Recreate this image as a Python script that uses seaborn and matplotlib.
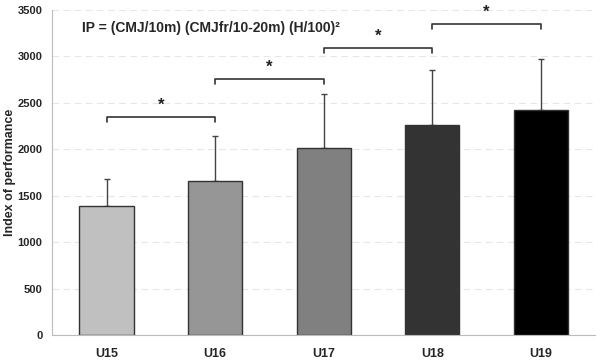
import numpy as np
import pandas as pd
import seaborn as sns
import matplotlib.pyplot as plt

# data
groups = ["U15", "U16", "U17", "U18", "U19"]
means = [1385, 1660, 2010, 2260, 2425]
sds = [295, 480, 580, 595, 550]
bar_colors = ["#c0c0c0", "#969696", "#808080", "#333333", "#000000"]

# significance brackets: (left group, right group, height)
brackets = [(0, 1, 2350), (1, 2, 2760), (2, 3, 3090), (3, 4, 3350)]

sns.set_style("white")
plt.rcParams["font.family"] = ["Liberation Sans", "DejaVu Sans"]

df = pd.DataFrame({"group": groups, "value": means})

fig = plt.figure(figsize=(6, 3.63), dpi=100)
ax = fig.add_axes([0.087, 0.077, 0.905, 0.896])

sns.barplot(data=df, x="group", y="value", hue="group", palette=bar_colors,
            width=0.5, edgecolor="#333333", linewidth=1.0, legend=False, ax=ax,
            zorder=2)

xs = np.arange(len(groups))
ax.errorbar(xs, means, yerr=[np.zeros(len(sds)), sds], fmt="none",
            ecolor="#444444", elinewidth=1.0, capsize=2.5, capthick=1.0, zorder=1)

for a, b, h in brackets:
    ax.plot([a, a, b, b], [h - 60, h, h, h - 60], color="#333333", lw=1.2,
            clip_on=False)
    ax.text((a + b) / 2, h + 40, "*", ha="center", va="bottom",
            fontsize=12, fontweight="bold", color="#222222")

ax.set_ylim(0, 3500)
ax.set_xlim(-0.5, 4.5)
ax.set_yticks(range(0, 3501, 500))
ax.yaxis.grid(True, color="#e6e6e6", linestyle=(0, (6, 4)), linewidth=0.8)
ax.set_axisbelow(True)

ax.set_xticks(np.arange(-0.5, 5, 1.0), minor=True)
ax.tick_params(axis="x", which="major", length=0, pad=9)
ax.tick_params(axis="x", which="minor", length=3, color="#bbbbbb", width=0.8)
ax.tick_params(axis="y", length=3, color="#bbbbbb", width=0.8, pad=4)

for lab in ax.get_xticklabels():
    lab.set_fontweight("bold")
    lab.set_fontsize(9)
for lab in ax.get_yticklabels():
    lab.set_fontweight("bold")
    lab.set_fontsize(8)

ax.set_xlabel("")
ax.set_ylabel("Index of performance", fontsize=9, fontweight="bold")
ax.yaxis.set_label_coords(-0.067, 0.5)

sns.despine(ax=ax)
ax.spines["left"].set_color("#bbbbbb")
ax.spines["bottom"].set_color("#bbbbbb")

ax.text(0.055, 0.945, "IP = (CMJ/10m) (CMJfr/10-20m) (H/100)²",
        transform=ax.transAxes, fontsize=10, fontweight="bold",
        ha="left", va="center")

fig.savefig("out.png", dpi=100)
